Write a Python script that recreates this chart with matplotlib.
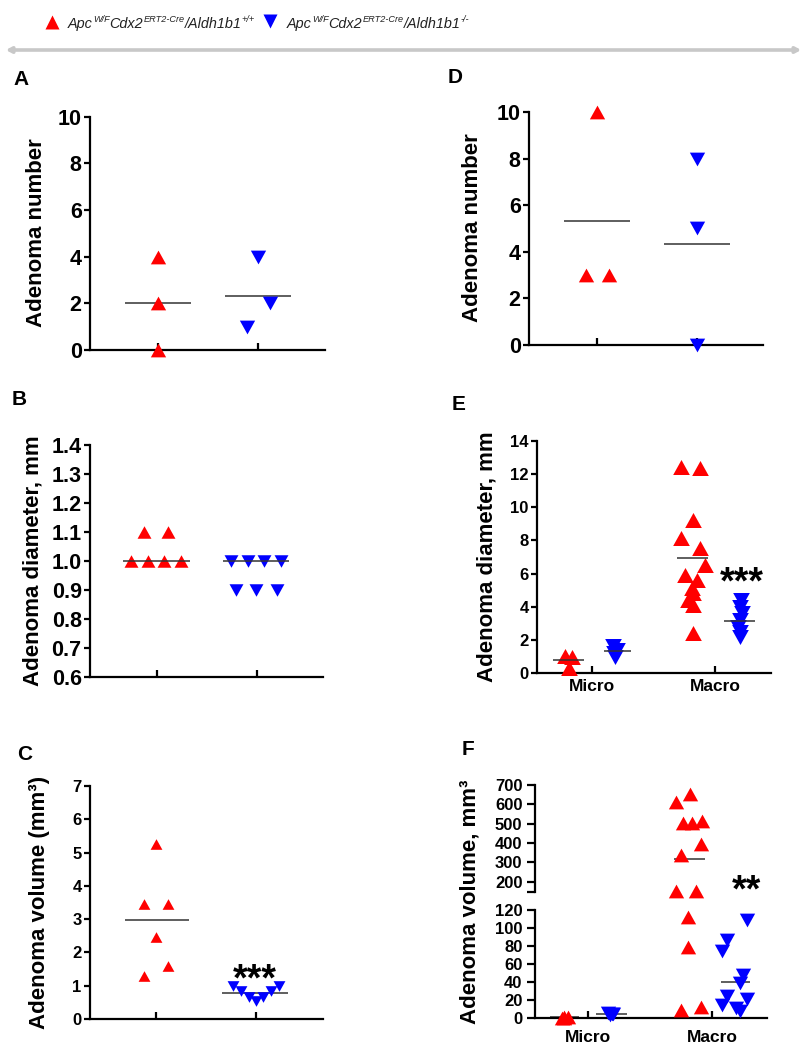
import numpy as np
import matplotlib
matplotlib.use("Agg")
import matplotlib.pyplot as plt
from matplotlib.path import Path
from matplotlib.patches import FancyArrowPatch

W, H = 807, 1050
RED, BLUE, MEANC = "#ff0000", "#0000ff", "#333333"
plt.rcParams["font.family"] = ["Liberation Sans", "DejaVu Sans"]
plt.rcParams["font.weight"] = "bold"

# ---- values ----
A_WT = [4, 2, 0]
A_KO = [4, 2, 1]
A_MEAN = [2.0, 2.33]

D_WT = [10, 3, 3]
D_KO = [8, 5, 0]
D_MEAN = [5.33, 4.33]

B_WT = [1.1, 1.1, 1.0, 1.0, 1.0, 1.0]
B_KO = [1.0, 1.0, 1.0, 1.0, 0.9, 0.9, 0.9]
B_MEAN = [1.0, 1.0]

C_WT = [5.25, 3.45, 3.45, 2.45, 1.6, 1.3]
C_KO = [1.0, 0.85, 0.65, 0.55, 0.65, 0.85, 1.0]
C_MEAN = [2.96, 0.78]

E_GROUPS = ["Micro", "Macro"]
E_MICRO_WT = [1.0, 0.95, 0.3]
E_MICRO_KO = [1.6, 1.4, 1.2, 0.95]
E_MACRO_WT = [12.45, 12.35, 9.23, 8.13, 7.53, 6.52, 5.91, 5.61, 5.11, 4.81, 4.41, 4.10, 2.40]
E_MACRO_KO = [4.4, 4.0, 3.6, 3.2, 2.8, 2.5, 2.2]
E_MEAN = {"micro": [0.78, 1.33], "macro": [6.92, 3.16]}

F_MICRO_WT = [0.5, 1.0, 0.8, 0.3]
F_MICRO_KO = [6, 5, 4.5, 3.5]
F_MACRO_WT = [653, 614, 516, 505, 505, 395, 338, 153, 153, 112.6, 79, 12.6, 8.9]
F_MACRO_KO = [109, 87, 74, 48, 39, 24, 21, 14, 11, 8]
F_MEAN = {"micro": [0.6, 4.1], "macro": [317, 40.4]}

LEG_WT = [("Apc", 0), ("W/F", 1), ("Cdx2", 0), ("ERT2-Cre", 1), ("/Aldh1b1", 0), ("+/+", 1)]
LEG_KO = [("Apc", 0), ("W/F", 1), ("Cdx2", 0), ("ERT2-Cre", 1), ("/Aldh1b1", 0), ("-/-", 1)]

# horizontal scatter of the points (layout, in category units)
J_A_WT, J_A_KO = [0, 0, 0], [0, 0.12, -0.11]
J_D_WT, J_D_KO = [0, -0.11, 0.12], [0, 0, 0]
J_B_WT = [-0.13, 0.11, -0.26, -0.09, 0.07, 0.24]
J_B_KO = [-0.26, -0.09, 0.07, 0.24, -0.21, -0.01, 0.2]
J_C_WT = [0, -0.12, 0.12, 0, 0.12, -0.12]
J_C_KO = [-0.23, -0.15, -0.07, 0, 0.07, 0.15, 0.23]
J_E_MI_WT, J_E_MI_KO = [-0.22, -0.16, -0.19], [0.17, 0.2, 0.18, 0.19]
J_E_MA_WT = [-0.28, -0.12, -0.18, -0.28, -0.12, -0.08, -0.24, -0.15, -0.19, -0.18, -0.22, -0.18, -0.18]
J_E_MA_KO = [0.21, 0.2, 0.22, 0.2, 0.19, 0.2, 0.2]
J_F_MI_WT, J_F_MI_KO = [-0.21, -0.19, -0.16, -0.19], [0.16, 0.19, 0.2, 0.18]
J_F_MA_WT = [-0.18, -0.29, -0.08, -0.23, -0.16, -0.09, -0.25, -0.29, -0.13, -0.19, -0.19, -0.09, -0.25]
J_F_MA_KO = [0.28, 0.12, 0.08, 0.25, 0.23, 0.12, 0.28, 0.08, 0.19, 0.23]

UP = Path([(-1, -0.9), (1, -0.9), (0, 0.9), (-1, -0.9)], closed=True)
DN = Path([(-1, 0.9), (1, 0.9), (0, -0.9), (-1, 0.9)], closed=True)

fig = plt.figure(figsize=(W / 100, H / 100), dpi=100)


def box(l, t, r, b):
    return [l / W, 1 - b / H, (r - l) / W, (b - t) / H]


def style(ax, fs, bottom=True, ylen=4, ypad=2):
    ax.spines["top"].set_visible(False)
    ax.spines["right"].set_visible(False)
    ax.spines["left"].set_linewidth(1.6)
    ax.spines["bottom"].set_linewidth(1.6)
    if not bottom:
        ax.spines["bottom"].set_visible(False)
    ax.tick_params(axis="y", direction="out", length=ylen, width=1.6, labelsize=fs, pad=ypad)
    ax.tick_params(axis="x", direction="in", length=5, width=1.6, labelsize=12.5, pad=6)
    ax.patch.set_alpha(0)


def pts(ax, x0, vals, jit, mk, col, ms):
    ax.plot(x0 + np.asarray(jit), vals, ls="none", marker=mk, ms=ms, mfc=col,
            mec="none", clip_on=False, zorder=3)


def mline(ax, x, m, half, z=2):
    ax.plot([x - half, x + half], [m, m], color=MEANC, lw=1.1, zorder=z,
            solid_capstyle="butt", clip_on=False)


def stars(ax, x, y, s, fs=27):
    # asterisk glyph sits high in the line: shift the baseline down so the glyph centres on y
    ax.annotate(s, (x, y), xytext=(0, -0.40 * fs), textcoords="offset points",
                ha="center", va="baseline", fontsize=fs, weight="bold",
                annotation_clip=False, zorder=5)


def letter(x, y, s):
    fig.text(x / W, 1 - y / H, s, ha="center", va="baseline", fontsize=15, weight="bold")


def ylab(x, y, s):
    fig.text(x / W, 1 - y / H, s, ha="center", va="center", rotation=90,
             fontsize=16, weight="bold")


# ---- legend + divider ----
rend = fig.canvas.get_renderer()


def rich(x, y, parts, size=10.4):
    for txt, sup in parts:
        fs = size * 0.63 if sup else size
        dy = 6.5 if sup else 0
        t = fig.text(x / W, (H - y + dy) / H, txt, fontsize=fs, style="italic",
                     weight="normal", color="#222222", va="baseline")
        x += t.get_window_extent(rend).width


lax = fig.add_axes([0, 0, 1, 1])
lax.set_xlim(0, W); lax.set_ylim(H, 0); lax.axis("off")
lax.plot([52], [22], ls="none", marker="^", ms=9.5, mfc=RED, mec="none")
lax.plot([270], [21], ls="none", marker="v", ms=9.5, mfc=BLUE, mec="none")
rich(68, 28, LEG_WT)
rich(287, 28, LEG_KO)
fig.add_artist(FancyArrowPatch((3 / W, 1 - 50 / H), (804 / W, 1 - 50 / H),
                               transform=fig.transFigure, color="#c8c8c8", lw=2.6,
                               arrowstyle="<|-|>,head_length=3,head_width=1.6"))

# ---- A ----
ax = fig.add_axes(box(90, 116.7, 325, 350))
style(ax, 15.5)
ax.set_xlim(0.32, 2.67); ax.set_ylim(0, 10)
ax.set_yticks(range(0, 11, 2)); ax.set_xticks([1, 2]); ax.set_xticklabels([])
mline(ax, 1, A_MEAN[0], 0.33); mline(ax, 2, A_MEAN[1], 0.33)
pts(ax, 1, A_WT, J_A_WT, UP, RED, 11); pts(ax, 2, A_KO, J_A_KO, DN, BLUE, 11)
letter(21, 85, "A"); ylab(37, 233, "Adenoma number")

# ---- D ----
ax = fig.add_axes(box(529, 112, 763, 345))
style(ax, 15.5)
ax.set_xlim(0.32, 2.66); ax.set_ylim(0, 10)
ax.set_yticks(range(0, 11, 2)); ax.set_xticks([1, 2]); ax.set_xticklabels([])
mline(ax, 1, D_MEAN[0], 0.33); mline(ax, 2, D_MEAN[1], 0.33)
pts(ax, 1, D_WT, J_D_WT, UP, RED, 11); pts(ax, 2, D_KO, J_D_KO, DN, BLUE, 11)
letter(455, 83, "D"); ylab(473, 228, "Adenoma number")

# ---- B ----
ax = fig.add_axes(box(90, 445, 323, 677))
style(ax, 15.5)
ax.set_xlim(0.33, 2.66); ax.set_ylim(0.6, 1.4)
ax.set_yticks(np.arange(0.6, 1.41, 0.1)); ax.set_xticks([1, 2]); ax.set_xticklabels([])
ax.yaxis.set_major_formatter(matplotlib.ticker.FormatStrFormatter("%.1f"))
pts(ax, 1, B_WT, J_B_WT, UP, RED, 10); pts(ax, 2, B_KO, J_B_KO, DN, BLUE, 10)
mline(ax, 0.995, B_MEAN[0], 0.335, 4); mline(ax, 1.99, B_MEAN[1], 0.33, 4)
letter(19, 405, "B"); ylab(33, 561, "Adenoma diameter, mm")

# ---- C ----
ax = fig.add_axes(box(90, 786, 323, 1019))
style(ax, 12)
ax.set_xlim(0.34, 2.67); ax.set_ylim(0, 7)
ax.set_yticks(range(0, 8)); ax.set_xticks([1, 2]); ax.set_xticklabels([])
mline(ax, 1.01, C_MEAN[0], 0.32); mline(ax, 1.99, C_MEAN[1], 0.33)
pts(ax, 1, C_WT, J_C_WT, UP, RED, 8.5); pts(ax, 2, C_KO, J_C_KO, DN, BLUE, 8.5)
stars(ax, 1.99, 1.32, "***")
letter(25, 760, "C"); ylab(40, 902, "Adenoma volume (mm³)")

# ---- E ----
ax = fig.add_axes(box(537, 441, 771, 673))
style(ax, 12)
ax.tick_params(axis="x", pad=4)
ax.set_xlim(0.553, 2.455); ax.set_ylim(0, 14)
ax.set_yticks(range(0, 15, 2)); ax.set_xticks([1, 2]); ax.set_xticklabels(E_GROUPS)
pts(ax, 1, E_MICRO_WT, J_E_MI_WT, UP, RED, 12); pts(ax, 1, E_MICRO_KO, J_E_MI_KO, DN, BLUE, 12)
pts(ax, 2, E_MACRO_WT, J_E_MA_WT, UP, RED, 12); pts(ax, 2, E_MACRO_KO, J_E_MA_KO, DN, BLUE, 12)
mline(ax, 0.81, E_MEAN["micro"][0], 0.127, 4); mline(ax, 1.21, E_MEAN["micro"][1], 0.11, 4)
mline(ax, 1.82, E_MEAN["macro"][0], 0.126, 4); mline(ax, 2.2, E_MEAN["macro"][1], 0.126, 4)
stars(ax, 2.22, 5.7, "***")
letter(459, 410, "E"); ylab(487, 557, "Adenoma diameter, mm")

# ---- F (broken axis) ----
top = fig.add_axes(box(535, 785, 767, 892))
bot = fig.add_axes(box(535, 910, 767, 1018))
style(top, 12, bottom=False, ylen=6, ypad=3); style(bot, 12, ylen=6, ypad=3)
bot.tick_params(axis="x", pad=9)
for a in (top, bot):
    a.set_xlim(0.573, 2.444)
top.set_ylim(147, 700); bot.set_ylim(0, 120)
top.set_yticks([147] + list(range(200, 701, 100)))
top.set_yticklabels([""] + [str(v) for v in range(200, 701, 100)])
top.set_xticks([])
bot.set_yticks(range(0, 121, 20)); bot.set_xticks([1, 2]); bot.set_xticklabels(E_GROUPS)
for x0, vals, jit, mk, col in [(1, F_MICRO_WT, J_F_MI_WT, UP, RED), (1, F_MICRO_KO, J_F_MI_KO, DN, BLUE),
                               (2, F_MACRO_WT, J_F_MA_WT, UP, RED), (2, F_MACRO_KO, J_F_MA_KO, DN, BLUE)]:
    v = np.asarray(vals, float); j = np.asarray(jit, float); hi = v > 130
    if hi.any():
        pts(top, x0, v[hi], j[hi], mk, col, 11)
    if (~hi).any():
        pts(bot, x0, v[~hi], j[~hi], mk, col, 11)
mline(bot, 0.81, F_MEAN["micro"][0], 0.12); mline(bot, 1.19, F_MEAN["micro"][1], 0.124)
mline(top, 1.82, F_MEAN["macro"][0], 0.125); mline(bot, 2.19, F_MEAN["macro"][1], 0.12)
stars(top, 2.28, 174, "**")
letter(468, 755, "F"); ylab(470, 902, "Adenoma volume, mm³")

fig.savefig("out.png", dpi=100)
